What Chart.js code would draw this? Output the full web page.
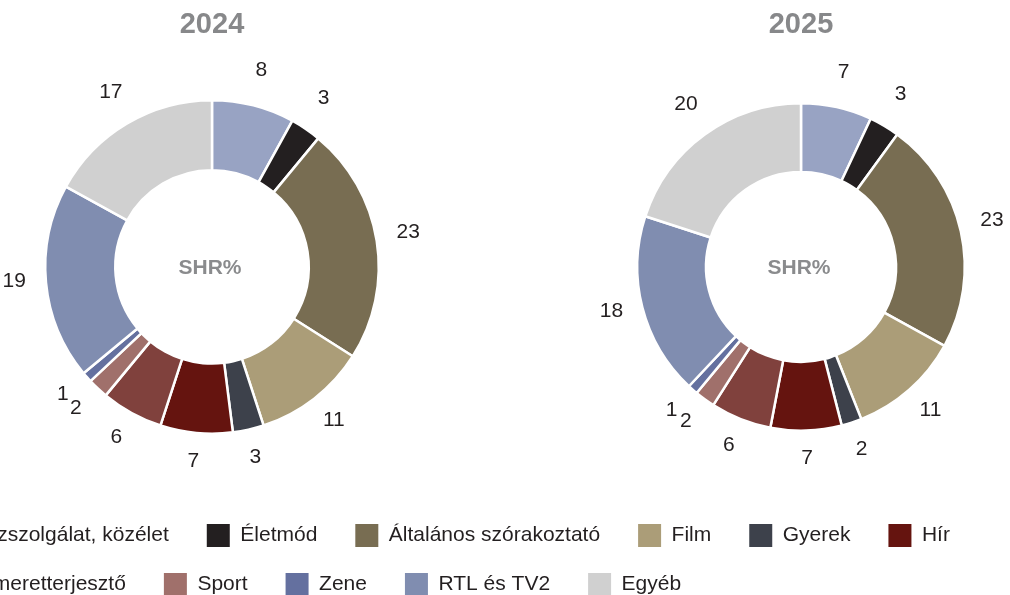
<!DOCTYPE html>
<html lang="hu">
<head>
<meta charset="UTF-8">
<title>SHR% 2024 – 2025</title>
<script src="https://cdn.jsdelivr.net/npm/chart.js"></script>
<style>
    html, body { margin: 0; padding: 0; background: #fff; overflow: hidden; }
    body { width: 1010px; height: 595px; position: relative; }
    canvas { position: absolute; }
    #chart2024 { left: -8px; top: 0; }
    #chart2025 { left: 581px; top: 0; }
    #legend1 { left: -100px; top: 486px; }
    #legend2 { left: -95px; top: 535px; }
</style>
</head>
<body>
<canvas id="chart2024" width="440" height="500"></canvas>
<canvas id="chart2025" width="440" height="500"></canvas>
<canvas id="legend1" width="1200" height="160"></canvas>
<canvas id="legend2" width="1200" height="160"></canvas>
<script>
    // csatornatípusok (SHR%)
    const categories = [
        'Közszolgálat, közélet', 'Életmód', 'Általános szórakoztató', 'Film', 'Gyerek', 'Hír',
        'Ismeretterjesztő', 'Sport', 'Zene', 'RTL és TV2', 'Egyéb'
    ];
    const share2024 = [8, 3, 23, 11, 3, 7, 6, 2, 1, 19, 17];
    const share2025 = [7, 3, 23, 11, 2, 7, 6, 2, 1, 18, 20];
    const years = ['2024', '2025'];
    const centerLabel = 'SHR%';

    const colors = [
        '#98a3c3', '#231f20', '#786d52', '#ab9d78', '#3d414b', '#65140f',
        '#80413d', '#a0706b', '#64709f', '#808db0', '#d0d0d0'
    ];

    Chart.defaults.font.family = '"Liberation Sans", Arial, sans-serif';
    Chart.defaults.color = '#231f20';

    // értékek a szeletek mellett
    const sliceLabels = {
        id: 'sliceLabels',
        afterDatasetsDraw(chart) {
            const ctx = chart.ctx;
            const values = chart.data.datasets[0].data;
            ctx.save();
            ctx.font = '21px "Liberation Sans", Arial, sans-serif';
            ctx.fillStyle = '#231f20';
            ctx.textAlign = 'center';
            ctx.textBaseline = 'middle';
            chart.getDatasetMeta(0).data.forEach((arc, i) => {
                const p = arc.getProps(['x', 'y', 'startAngle', 'endAngle', 'outerRadius'], true);
                const a = (p.startAngle + p.endAngle) / 2;
                const r = p.outerRadius + 32;
                ctx.fillText(values[i], p.x + Math.cos(a) * r, p.y + Math.sin(a) * r - 4);
            });
            ctx.restore();
        }
    };

    const centerText = {
        id: 'centerText',
        afterDatasetsDraw(chart) {
            const ctx = chart.ctx;
            const arc = chart.getDatasetMeta(0).data[0];
            ctx.save();
            ctx.font = 'bold 21px "Liberation Sans", Arial, sans-serif';
            ctx.fillStyle = '#8a8b8d';
            ctx.textAlign = 'center';
            ctx.textBaseline = 'middle';
            ctx.fillText(centerLabel, arc.x - 2, arc.y + 1);
            ctx.restore();
        }
    };

    function donut(id, year, values, side, bottom, titleGap) {
        return new Chart(document.getElementById(id), {
            type: 'doughnut',
            data: {
                labels: categories,
                datasets: [{
                    data: values,
                    backgroundColor: colors,
                    borderColor: '#ffffff',
                    borderWidth: 2.5,
                    hoverOffset: 0
                }]
            },
            options: {
                responsive: false,
                animation: false,
                events: [],
                cutout: '58%',
                layout: { padding: { left: side, right: side, top: 0, bottom: bottom } },
                plugins: {
                    legend: { display: false },
                    tooltip: { enabled: false },
                    title: {
                        display: true,
                        text: year,
                        color: '#87888a',
                        font: { size: 29, weight: 'bold' },
                        padding: { top: 8, bottom: titleGap }
                    }
                }
            },
            plugins: [sliceLabels, centerText]
        });
    }

    donut('chart2024', years[0], share2024, 52, 65, 56);
    donut('chart2025', years[1], share2025, 55, 68, 59);

    // jelmagyarázat két sorban
    function legendRow(id, from, to) {
        return new Chart(document.getElementById(id), {
            type: 'doughnut',
            data: {
                labels: categories,
                datasets: [{ data: share2024, backgroundColor: colors, borderWidth: 0 }]
            },
            options: {
                responsive: false,
                animation: false,
                events: [],
                radius: 0,
                plugins: {
                    tooltip: { enabled: false },
                    legend: {
                        display: true,
                        position: 'top',
                        align: 'start',
                        maxHeight: 150,
                        labels: {
                            boxWidth: 23,
                            boxHeight: 23,
                            padding: 38,
                            color: '#231f20',
                            font: { size: 21 },
                            filter: item => item.index >= from && item.index <= to
                        }
                    }
                }
            }
        });
    }

    legendRow('legend1', 0, 5);
    legendRow('legend2', 6, 10);
</script>
</body>
</html>
